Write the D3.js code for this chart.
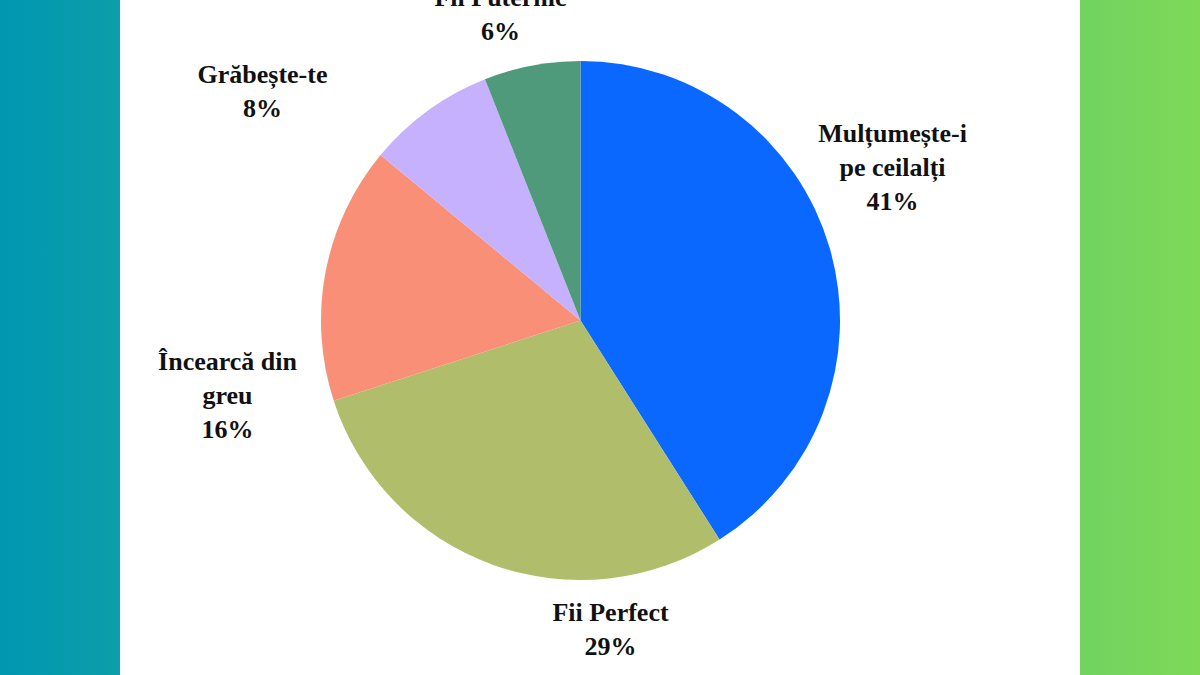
<!DOCTYPE html>
<html><head><meta charset="utf-8">
<script src="https://cdn.jsdelivr.net/npm/d3@7"></script>
<style>html,body{margin:0;padding:0;overflow:hidden;}</style>
</head><body>
<svg id="chart" width="1200" height="675"></svg>
<script>
const categories = [["Mulțumește-i", "pe ceilalți"], ["Fii Perfect"], ["Încearcă din", "greu"], ["Grăbește-te"], ["Fii Puternic"]];
const values = [41, 29, 16, 8, 6];
const colors = ["#0b68fe", "#b0be6c", "#fa8f78", "#c5b1fe", "#4f9a7b"];
// label anchor offsets from pie centre (layout only)
const labelOffsets = [[312, -154], [30, 308], [-353, 74], [-318, -230], [-80, -307]];

const W = 1200, H = 675, cx = 580.5, cy = 320.5, R = 259.5;
const svg = d3.select("#chart");
const defs = svg.append("defs");
const g = defs.append("linearGradient").attr("id", "bg").attr("x1", "0").attr("x2", "1").attr("y1", "0").attr("y2", "0");
g.append("stop").attr("offset", "0%").attr("stop-color", "#0097b2");
g.append("stop").attr("offset", "100%").attr("stop-color", "#7ed957");
svg.append("rect").attr("width", W).attr("height", H).attr("fill", "url(#bg)");
svg.append("rect").attr("x", 120).attr("y", 0).attr("width", 960).attr("height", H).attr("fill", "#ffffff");

const data = values.map((v, i) => ({v, i}));
const pie = d3.pie().value(d => d.v).sort(null);
const arc = d3.arc().innerRadius(0).outerRadius(R);
const root = svg.append("g").attr("transform", `translate(${cx},${cy})`);
root.selectAll("path").data(pie(data)).join("path")
  .attr("d", arc).attr("fill", d => colors[d.data.i]);

const lh = 34;
data.forEach((d, i) => {
  const lines = categories[i].concat([values[i] + "%"]);
  const [ox, oy] = labelOffsets[i];
  const t = root.append("text")
    .attr("text-anchor", "middle")
    .attr("font-family", "'Liberation Serif', 'Times New Roman', serif")
    .attr("font-weight", "bold")
    .attr("font-size", 26)
    .attr("fill", "#111111");
  const n = lines.length;
  lines.forEach((ln, k) => {
    t.append("tspan").attr("x", ox).attr("y", oy + (k - (n - 1) / 2) * lh).attr("dy", "0.35em").text(ln);
  });
});
</script>
</body></html>
